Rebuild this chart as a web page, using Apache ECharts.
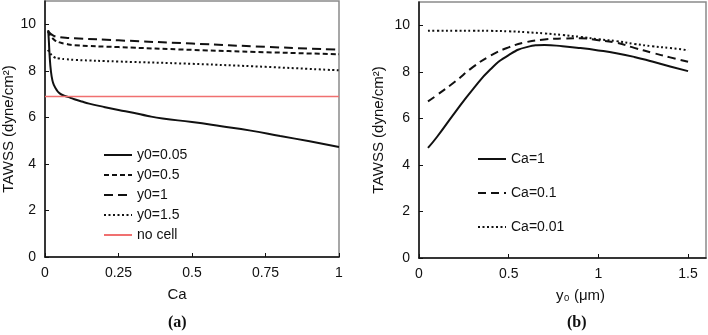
<!DOCTYPE html>
<html>
<head>
<meta charset="utf-8">
<script src="https://cdn.jsdelivr.net/npm/echarts@6/dist/echarts.min.js"></script>
<style>
  html, body { margin: 0; padding: 0; background: #fff; }
  #main { width: 708px; height: 335px; }
</style>
</head>
<body>
<div id="main"></div>
<script>
// panel (a): TAWSS vs Ca
const caSolid = [0.011, 0.013, 0.016, 0.02, 0.025, 0.03, 0.04, 0.05, 0.065, 0.085, 0.1, 0.125, 0.15, 0.2, 0.25, 0.3, 0.35, 0.4, 0.5, 0.6, 0.7, 0.8, 0.9, 1.0]
const y005 = [9.75, 9.3, 8.6, 8.0, 7.6, 7.4, 7.17, 7.03, 6.93, 6.85, 6.78, 6.68, 6.59, 6.45, 6.32, 6.2, 6.06, 5.95, 5.8, 5.62, 5.43, 5.2, 4.97, 4.73]
const caOther = [0.01, 0.03, 0.05, 0.07, 0.1, 0.25, 0.5, 0.75, 1.0]
const y05 = [9.7, 9.35, 9.22, 9.16, 9.1, 9.02, 8.9, 8.8, 8.71]
const y1 = [9.7, 9.5, 9.45, 9.42, 9.4, 9.31, 9.17, 9.03, 8.91]
const y15 = [8.9, 8.6, 8.53, 8.5, 8.47, 8.4, 8.3, 8.17, 8.02]
const caNoCell = [0, 1]
const noCell = [6.9, 6.9]

// panel (b): TAWSS vs y0
const y0s = [0.05, 0.1, 0.2, 0.3, 0.4, 0.5, 0.6, 0.7, 0.8, 0.9, 1.0, 1.1, 1.2, 1.3, 1.4, 1.5]
const ca1 = [4.73, 5.2, 6.25, 7.25, 8.12, 8.72, 9.06, 9.15, 9.1, 9.02, 8.92, 8.8, 8.64, 8.44, 8.23, 8.03]
const ca01 = [6.73, 7.0, 7.57, 8.2, 8.7, 9.05, 9.28, 9.39, 9.43, 9.44, 9.36, 9.25, 9.03, 8.82, 8.62, 8.43]
const ca001 = [9.76, 9.77, 9.77, 9.77, 9.76, 9.74, 9.7, 9.65, 9.58, 9.5, 9.4, 9.32, 9.2, 9.1, 9.02, 8.93]

// tick labels
const yTicks = [0, 2, 4, 6, 8, 10]
const caTicks = [0, 0.25, 0.5, 0.75, 1]
const y0Ticks = [0, 0.5, 1, 1.5]

const FONT = 'Liberation Sans, Arial, sans-serif'
const INK = '#111'

function pairs(xs, ys) {
  return xs.map((x, i) => [x, ys[i]])
}

function valueAxis(grid, min, max, ticks, extra) {
  return Object.assign({
    type: 'value',
    gridIndex: grid,
    min: min,
    max: max,
    splitLine: { show: false },
    axisLine: { onZero: false, lineStyle: { color: INK, width: 1.5 } },
    axisTick: { inside: true, length: 4, customValues: ticks, lineStyle: { color: INK, width: 1 } },
    axisLabel: { customValues: ticks, color: INK, fontSize: 14, fontFamily: FONT, margin: 9 }
  }, extra)
}

function line(name, xi, data, color, width, type, smooth) {
  return {
    name: name,
    type: 'line',
    xAxisIndex: xi,
    yAxisIndex: xi,
    data: data,
    symbol: 'none',
    smooth: smooth,
    lineStyle: { color: color, width: width, type: type },
    itemStyle: { color: color },
    emphasis: { disabled: true }
  }
}

const chart = echarts.init(document.getElementById('main'), null, { renderer: 'canvas' })

const legendText = { color: INK, fontSize: 14, fontFamily: FONT }

chart.setOption({
  animation: false,
  backgroundColor: '#fff',
  grid: [
    { left: 45, right: 369, top: 1, bottom: 78, show: true, borderColor: '#8a8a8a', borderWidth: 1.5 },
    { left: 419, right: 2, top: 2, bottom: 77, show: true, borderColor: '#8a8a8a', borderWidth: 1.5 }
  ],
  xAxis: [
    valueAxis(0, 0, 1, caTicks, {
      name: 'Ca', nameLocation: 'middle', nameGap: 30,
      nameTextStyle: { color: INK, fontSize: 15, fontFamily: FONT, padding: [0, 30, 0, 0] }
    }),
    valueAxis(1, 0, 1.6, y0Ticks, {
      name: 'y\u2080 (\u03bcm)', nameLocation: 'middle', nameGap: 30,
      nameTextStyle: { color: INK, fontSize: 15, fontFamily: FONT, padding: [0, 0, 0, 36] }
    })
  ],
  yAxis: [
    valueAxis(0, 0, 11, yTicks, {
      name: 'TAWSS (dyne/cm\u00b2)', nameLocation: 'middle', nameGap: 28, nameRotate: 90,
      nameTextStyle: { color: INK, fontSize: 15, fontFamily: FONT }
    }),
    valueAxis(1, 0, 11, yTicks, {
      name: 'TAWSS (dyne/cm\u00b2)', nameLocation: 'middle', nameGap: 33, nameRotate: 90,
      nameTextStyle: { color: INK, fontSize: 15, fontFamily: FONT }
    })
  ],
  legend: [
    {
      data: ['y0=0.05', 'y0=0.5', 'y0=1', 'y0=1.5', 'no cell'],
      orient: 'vertical', left: 98, top: 143,
      itemWidth: 28, itemHeight: 14, itemGap: 6,
      itemStyle: { opacity: 0 },
      textStyle: legendText, selectedMode: false
    },
    {
      data: ['Ca=1', 'Ca=0.1', 'Ca=0.01'],
      orient: 'vertical', left: 472, top: 147,
      itemWidth: 28, itemHeight: 14, itemGap: 20,
      itemStyle: { opacity: 0 },
      textStyle: legendText, selectedMode: false
    }
  ],
  series: [
    line('y0=0.05', 0, pairs(caSolid, y005), INK, 2, 'solid', true),
    line('y0=0.5', 0, pairs(caOther, y05), INK, 2, [5, 3], true),
    line('y0=1', 0, pairs(caOther, y1), INK, 2, [9, 5], true),
    line('y0=1.5', 0, pairs(caOther, y15), INK, 2, [2, 2.5], true),
    line('no cell', 0, pairs(caNoCell, noCell), '#f07070', 1.5, 'solid', false),
    line('Ca=1', 1, pairs(y0s, ca1), INK, 2, 'solid', true),
    line('Ca=0.1', 1, pairs(y0s, ca01), INK, 2, [8, 5], true),
    line('Ca=0.01', 1, pairs(y0s, ca001), INK, 2, [2, 2.5], true)
  ],
  graphic: [
    { type: 'text', left: 168, top: 315, style: { text: '(a)', fill: INK, font: 'bold 16px "Liberation Serif", serif' } },
    { type: 'text', left: 567, top: 315, style: { text: '(b)', fill: INK, font: 'bold 16px "Liberation Serif", serif' } }
  ]
})
</script>
</body>
</html>
